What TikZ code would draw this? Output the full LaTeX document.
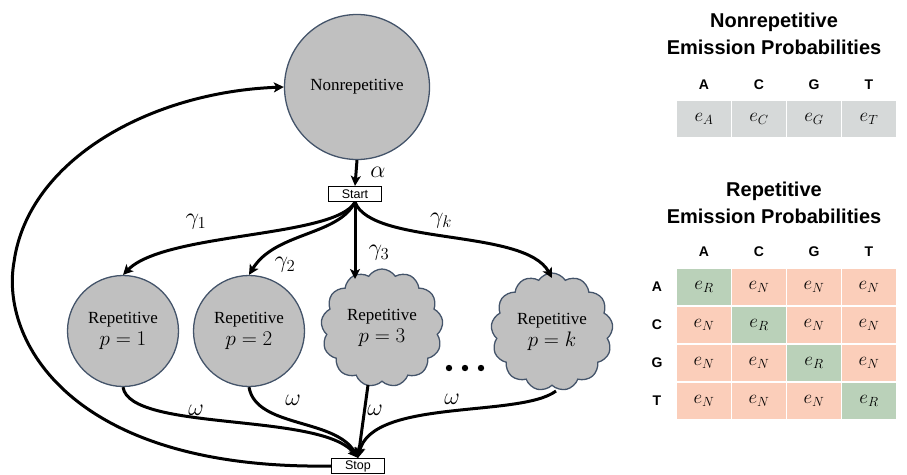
\RequirePackage{fix-cm}
\documentclass[tikz,border=0pt]{standalone}
\usepackage{fontspec}
\setmainfont{Liberation Serif}
\setsansfont{Liberation Sans}
\usetikzlibrary{arrows.meta,shapes.symbols}

\definecolor{stategray}{RGB}{192,192,192}
\definecolor{stateedge}{RGB}{68,84,106}
\definecolor{cellgray}{RGB}{214,217,217}
\definecolor{cellgreen}{RGB}{186,209,185}
\definecolor{cellred}{RGB}{251,206,186}

\newcommand{\pvalue}[1]{{\fontsize{21}{24}\selectfont$p=#1$}}

\tikzset{
  state/.style={circle, draw=stateedge, fill=stategray, line width=1.3pt,
    align=center, inner sep=0pt, font=\fontsize{17}{22}\selectfont},
  cloudstate/.style={cloud, cloud puffs=13, cloud puff arc=115, aspect=1,
    draw=stateedge, fill=stategray, line width=1.3pt, inner sep=0pt,
    minimum width=122pt, minimum height=118pt, align=center,
    font=\fontsize{17}{22}\selectfont},
  tagbox/.style={draw, line width=1.2pt, minimum width=53pt, minimum height=15pt,
    inner sep=0pt, font=\sffamily\fontsize{12.5}{14}\selectfont},
  flow/.style={line width=3pt, -{Stealth[length=10pt,width=10pt,inset=2.5pt]}},
  prob/.style={font=\fontsize{24}{28}\selectfont},
  cell/.style={draw=white, line width=1.5pt, minimum width=55pt, minimum height=38pt,
    inner sep=0pt, font=\fontsize{19}{22}\selectfont},
  colhead/.style={font=\sffamily\bfseries\fontsize{14}{16}\selectfont},
  tabtitle/.style={align=center, font=\sffamily\bfseries\fontsize{20}{27}\selectfont}
}

\begin{document}
\begin{tikzpicture}[x=1pt, y=-1pt]
  \useasboundingbox (0,0) rectangle (907,474);

  % States
  \node[state, minimum size=145pt] (nonrep) at (357,87) {Nonrepetitive};
  \node[tagbox] (start) at (355,194) {Start};
  \node[tagbox] (stop) at (358,466) {Stop};
  \node[state, minimum size=111pt] (rep1) at (123,331) {Repetitive\\\pvalue{1}};
  \node[state, minimum size=111pt] (rep2) at (249,331) {Repetitive\\\pvalue{2}};
  \node[cloudstate] (rep3) at (382,328) {Repetitive\\\pvalue{3}};
  \node[cloudstate] (repk) at (552,332) {Repetitive\\\pvalue{k}};
  \foreach \x in {449,465,481}
    \fill (\x,368) circle (3.2pt);

  % Ends on the cloud borders
  \coordinate (rep3in) at (355,279);
  \coordinate (repkin) at (552,278);
  \coordinate (rep3out) at (368,385);
  \coordinate (repkout) at (556,391);

  % Into Start
  \draw[flow] (nonrep.south) -- (start.north);
  \node[prob] (alpha) at (378,172) {$\alpha$};

  % Start to the repetitive states
  \draw[flow] (start.south) .. controls (335,238) and (165,232) .. (rep1.north);
  \draw[flow] (start.south) .. controls (338,236) and (275,232) .. (rep2.north);
  \draw[flow] (start.south) -- (rep3in);
  \draw[flow] (start.south) .. controls (372,246) and (525,228) .. (repkin);
  \node[prob] (g1) at (196,222) {$\gamma_1$};
  \node[prob] (g2) at (285,265) {$\gamma_2$};
  \node[prob] (g3) at (379,253) {$\gamma_3$};
  \node[prob] (gk) at (441,221) {$\gamma_k$};

  % Repetitive states to Stop
  \draw[flow] (rep1.south) .. controls (130,432) and (320,412) .. (stop.north);
  \draw[flow] (rep2.south) .. controls (256,428) and (335,418) .. (stop.north);
  \draw[flow] (rep3out) -- (stop.north);
  \draw[flow] (repkout) .. controls (520,418) and (372,398) .. (stop.north);
  \node[prob] (w1) at (196,410) {$\omega$};
  \node[prob] (w2) at (293,400) {$\omega$};
  \node[prob] (w3) at (375,410) {$\omega$};
  \node[prob] (wk) at (452,399) {$\omega$};

  % Back to Nonrepetitive
  \draw[flow] (stop.west) .. controls (70,470) and (0,340) .. (14,262)
    .. controls (28,160) and (150,92) .. (nonrep.west);

  % Nonrepetitive emission table
  \node[tabtitle] (ntitle) at (774,34) {Nonrepetitive\\Emission Probabilities};
  \foreach \b/\x in {A/704,C/759,G/814,T/869} {
    \node[colhead] (nh-\b) at (\x,85) {\b};
    \node[cell, fill=cellgray] (n-\b) at (\x,119) {$e_{\b}$};
  }

  % Repetitive emission table
  \node[tabtitle] (rtitle) at (774,203) {Repetitive\\Emission Probabilities};
  \foreach \b/\x in {A/704,C/759,G/814,T/869}
    \node[colhead] (rh-\b) at (\x,252) {\b};
  \foreach \r/\y [count=\i] in {A/287,C/325,G/363,T/401} {
    \node[colhead] (rr-\r) at (657,\y) {\r};
    \foreach \b/\x [count=\j] in {A/704,C/759,G/814,T/869} {
      \ifnum\i=\j
        \node[cell, fill=cellgreen] (r-\r-\b) at (\x,\y) {$e_R$};
      \else
        \node[cell, fill=cellred] (r-\r-\b) at (\x,\y) {$e_N$};
      \fi
    }
  }
\end{tikzpicture}
\end{document}
